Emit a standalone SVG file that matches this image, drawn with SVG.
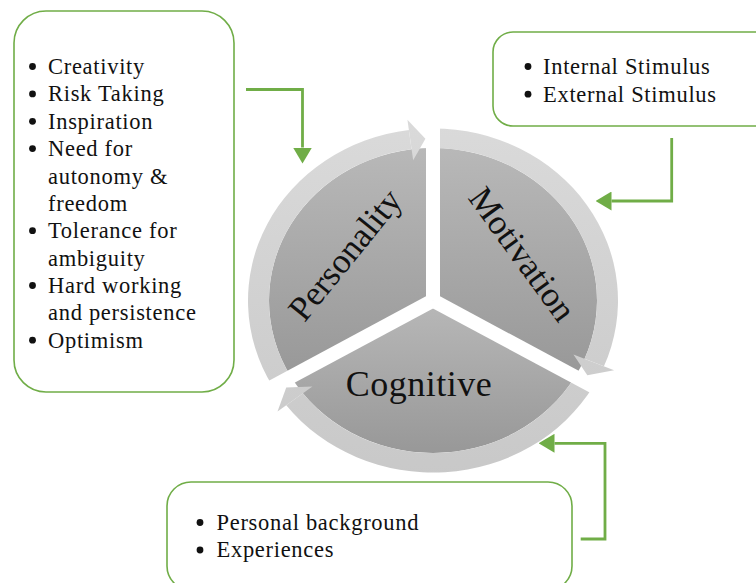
<svg xmlns="http://www.w3.org/2000/svg" width="756" height="583" viewBox="0 0 756 583">
  <style>
    .box { fill: #ffffff; stroke: #70ad47; stroke-width: 1.6; }
    .txt { font-family: "Liberation Serif", "Times New Roman", serif; font-size: 22.5px; letter-spacing: 0.7px; fill: #111111; }
    .big { font-family: "Liberation Serif", "Times New Roman", serif; font-size: 35px; fill: #111111; text-anchor: middle; }
    .bul { fill: #111111; }
    .conn { fill: none; stroke: #70ad47; stroke-width: 2.8; }
    .ring { fill: url(#ringGrad); }
    .gap { stroke: #ffffff; stroke-width: 14; fill: none; }
  </style>
  <defs>
    <linearGradient id="pieGrad" x1="0" y1="0" x2="0" y2="1">
      <stop offset="0" stop-color="#b8b8b8"/>
      <stop offset="1" stop-color="#989898"/>
    </linearGradient>
    <linearGradient id="ringGrad" gradientUnits="userSpaceOnUse" x1="0" y1="-196" x2="0" y2="196">
      <stop offset="0" stop-color="#dadada"/>
      <stop offset="1" stop-color="#c8c8c8"/>
    </linearGradient>
    <marker id="gArrow" viewBox="0 0 16 19" refX="0" refY="9.5" markerWidth="16" markerHeight="19" markerUnits="userSpaceOnUse" orient="auto">
      <path d="M0,0 L16,9.5 L0,19 Z" fill="#70ad47"/>
    </marker>
  </defs>

  <rect width="756" height="583" fill="#ffffff"/>

  <!-- cycle -->
  <g id="cycle">
    <g transform="translate(433,300.5) scale(1,0.93)">
      <path id="pie-personality" d="M0,0 L-142.03,82 A164,164 0 0 1 0,-164 Z" fill="url(#pieGrad)"/>
      <path id="pie-motivation" d="M0,0 L0,-164 A164,164 0 0 1 142.03,82 Z" fill="url(#pieGrad)"/>
      <path id="pie-cognitive" d="M0,0 L142.03,82 A164,164 0 0 1 -142.03,82 Z" fill="url(#pieGrad)"/>
      <path class="ring" d="M-160.21,92.5 A185,185 0 0 1 -24.15,-183.42 L-21.41,-162.60 A164,164 0 0 0 -142.03,82 Z"/>
      <path class="ring" d="M0,-185 A185,185 0 0 1 170.92,70.80 L151.52,62.76 A164,164 0 0 0 0,-164 Z"/>
      <path class="ring" d="M160.21,92.5 A185,185 0 0 1 -146.77,112.62 L-130.11,99.84 A164,164 0 0 0 142.03,82 Z"/>
    </g>
    <line class="gap" x1="433" y1="300.5" x2="433" y2="100"/>
    <line class="gap" x1="433" y1="300.5" x2="614.9" y2="398.2"/>
    <line class="gap" x1="433" y1="300.5" x2="251.1" y2="398.2"/>
    <g transform="translate(433,300.5) scale(1,0.93)">
      <path class="ring" d="M-19.84,-150.70 L-25.58,-194.32 L-7.59,-173.83 Z"/>
      <path class="ring" d="M140.43,58.17 L181.08,75.01 L154.34,80.34 Z"/>
      <path class="ring" d="M-120.59,92.53 L-155.50,119.32 L-146.75,93.49 Z"/>
    </g>
    <text class="big" transform="translate(354,262) rotate(-51)" x="0" y="0">Personality</text>
    <text class="big" transform="translate(513,261) rotate(54)" x="0" y="0">Motivation</text>
    <text class="big" x="419" y="396" style="font-size:36px;letter-spacing:0.5px">Cognitive</text>
  </g>

  <!-- left box -->
  <g id="box-personality">
    <rect class="box" x="14" y="11" width="220" height="381" rx="32" ry="32"/>
    <g class="bul">
      <circle cx="32.5" cy="66.5" r="3.4"/>
      <circle cx="32.5" cy="93.9" r="3.4"/>
      <circle cx="32.5" cy="121.3" r="3.4"/>
      <circle cx="32.5" cy="148.6" r="3.4"/>
      <circle cx="32.5" cy="230.7" r="3.4"/>
      <circle cx="32.5" cy="285.5" r="3.4"/>
      <circle cx="32.5" cy="340.2" r="3.4"/>
    </g>
    <text class="txt" x="48" y="74">Creativity</text>
    <text class="txt" x="48" y="101.4">Risk Taking</text>
    <text class="txt" x="48" y="128.8">Inspiration</text>
    <text class="txt" x="48" y="156.1">Need for</text>
    <text class="txt" x="48" y="183.5">autonomy &amp;</text>
    <text class="txt" x="48" y="210.8">freedom</text>
    <text class="txt" x="48" y="238.2">Tolerance for</text>
    <text class="txt" x="48" y="265.6">ambiguity</text>
    <text class="txt" x="48" y="293">Hard working</text>
    <text class="txt" x="48" y="320.3">and persistence</text>
    <text class="txt" x="48" y="347.7">Optimism</text>
  </g>

  <!-- right box -->
  <g id="box-motivation">
    <rect class="box" x="493" y="32" width="290" height="94" rx="20" ry="20"/>
    <circle class="bul" cx="528" cy="66.5" r="3.4"/>
    <circle class="bul" cx="528" cy="94.2" r="3.4"/>
    <text class="txt" x="543" y="74">Internal Stimulus</text>
    <text class="txt" x="543" y="101.7">External Stimulus</text>
  </g>

  <!-- bottom box -->
  <g id="box-cognitive">
    <rect class="box" x="167" y="482" width="405" height="108" rx="24" ry="24"/>
    <circle class="bul" cx="200" cy="522.5" r="3.4"/>
    <circle class="bul" cx="200" cy="550" r="3.4"/>
    <text class="txt" x="216.5" y="530">Personal background</text>
    <text class="txt" x="216.5" y="557.4">Experiences</text>
  </g>

  <!-- connectors -->
  <g id="connectors">
    <path class="conn" d="M246,89.5 H302.5 V147.5" marker-end="url(#gArrow)"/>
    <path class="conn" d="M671.7,138 V201 H611.5" marker-end="url(#gArrow)"/>
    <path class="conn" d="M580.7,539 H605 V443.3 H554.5" marker-end="url(#gArrow)"/>
  </g>
</svg>
